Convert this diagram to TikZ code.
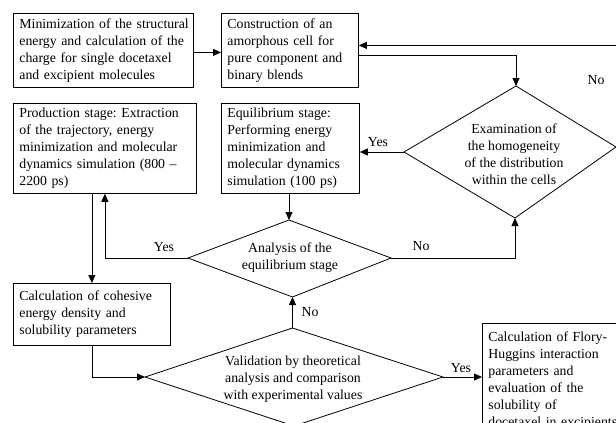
\documentclass[tikz,border=0pt]{standalone}
\usepackage{fontspec}
\setmainfont{Liberation Serif}
\usetikzlibrary{arrows.meta,calc}
\frenchspacing
\begin{document}
\frenchspacing
\begin{tikzpicture}[x=1pt,y=-1pt,
  every node/.style={font=\fontsize{13.8}{17}\selectfont},
  box/.style={draw, line width=0.8pt, anchor=north west, align=left, inner xsep=6pt, inner ysep=2pt},
  dia/.style={draw, line width=0.8pt, line join=miter},
  dtext/.style={align=center, inner sep=0pt},
  arr/.style={line width=0.8pt, -{Triangle[length=8pt,width=7pt]}},
  lbl/.style={inner sep=0pt}]
\useasboundingbox (0,0) rectangle (616,423);
\clip (0,0) rectangle (616,423);
\fill[white] (0,0) rectangle (616,423);

% boxes
\node[box, minimum width=180pt, minimum height=74pt, text width=168pt] (b1) at (13,13)
  {\mbox{Minimization of the structural}\\\mbox{energy and calculation of the}\\\mbox{charge for single docetaxel}\\\mbox{and excipient molecules}};
\node[box, minimum width=137pt, minimum height=74pt, text width=125pt] (b2) at (221,13)
  {\mbox{Construction of an}\\\mbox{amorphous cell for}\\\mbox{pure component and}\\\mbox{binary blends}};
\node[box, minimum width=183pt, minimum height=90pt, text width=171pt] (b3) at (13,103)
  {\mbox{Production stage: Extraction}\\\mbox{of the trajectory, energy}\\\mbox{minimization and molecular}\\\mbox{dynamics simulation (800 --}\\\mbox{2200 ps)}};
\node[box, minimum width=138pt, minimum height=90pt, text width=126pt] (b4) at (221,103)
  {\mbox{Equilibrium stage:}\\\mbox{Performing energy}\\\mbox{minimization and}\\\mbox{molecular dynamics}\\\mbox{simulation (100 ps)}};
\node[box, minimum width=157pt, minimum height=62pt, text width=145pt] (b5) at (13,283)
  {\mbox{Calculation of cohesive}\\\mbox{energy density and}\\\mbox{solubility parameters}};
\node[box, minimum width=148pt, minimum height=114pt, text width=136pt] (b6) at (482,323)
  {\mbox{Calculation of Flory-}\\\mbox{Huggins interaction}\\\mbox{parameters and}\\\mbox{evaluation of the}\\\mbox{solubility of}\\\mbox{docetaxel in excipients}};

% diamonds
\coordinate (ext) at (516,86);
\coordinate (exr) at (616,147);
\coordinate (exb) at (515,218);
\coordinate (exl) at (404,152);
\draw[dia] (ext) -- (exr) -- (exb) -- (exl) -- cycle;
\node[dtext] (ex) at (514,154) {Examination of\\the homogeneity\\of the distribution\\within the cells};

\coordinate (ant) at (289,220);
\coordinate (anr) at (391,258);
\coordinate (anb) at (292.5,297);
\coordinate (anl) at (188,258);
\draw[dia] (ant) -- (anr) -- (anb) -- (anl) -- cycle;
\node[dtext] (an) at (290,258) {Analysis of the\\equilibrium stage};

\coordinate (vat) at (292.5,328);
\coordinate (var) at (443,377);
\coordinate (vab) at (294,426);
\coordinate (val) at (145,377);
\draw[dia] (vat) -- (var) -- (vab) -- (val) -- cycle;
\node[dtext] (va) at (293,379) {Validation by theoretical\\analysis and comparison\\with experimental values};

% connectors
\draw[arr] ([yshift=-2pt]b1.east) -- ([yshift=-2pt]b1.east -| b2.west);
\draw[arr] ([yshift=-5pt]b2.east) -| (ext);
\draw[arr] (exr) -- ++(14,0) |- ([yshift=5pt]b2.east);
\draw[arr] (exl) -- (exl -| b4.east);
\draw[arr] (ant |- b4.south) -- (ant);
\draw[arr] (anl) -| (b3.south);
\draw[arr] (anr) -| (exb);
\draw[arr] (b5.north |- b3.south) -- (b5.north);
\draw[arr] (b5.south) |- (val);
\draw[arr] (vat) -- (anb);
\draw[arr] (var) -- (var -| b6.west);

% labels
\node[lbl] (l1) at (596,80) {No};
\node[lbl] (l2) at (378,142) {Yes};
\node[lbl] (l3) at (164,247) {Yes};
\node[lbl] (l4) at (421,246) {No};
\node[lbl] (l5) at (310,312) {No};
\node[lbl] (l6) at (461,368) {Yes};
\end{tikzpicture}
\end{document}
